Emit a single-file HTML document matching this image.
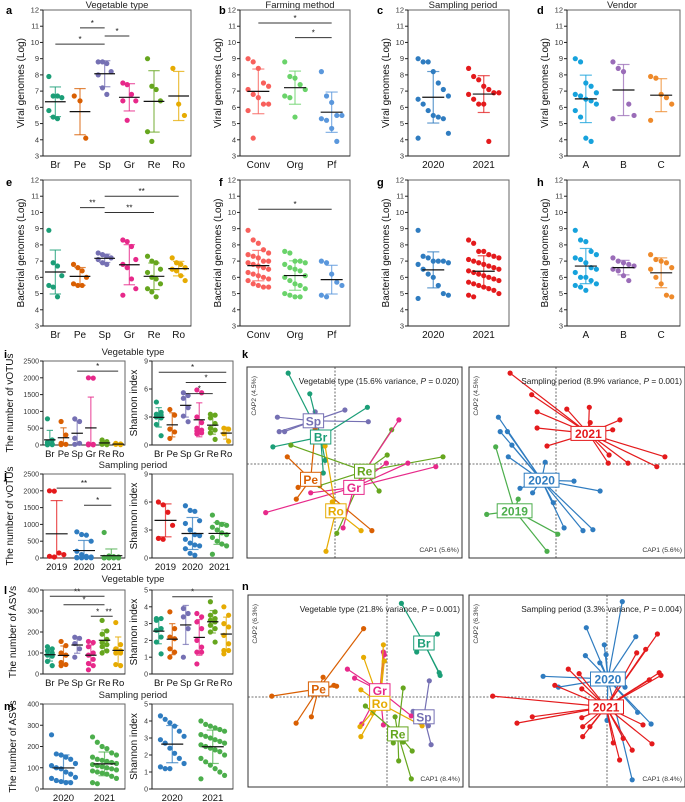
<!DOCTYPE html>
<html><head><meta charset="utf-8">
<style>
body{margin:0;background:#fff;}
svg{display:block;font-family:"Liberation Sans",Arial,sans-serif;}
</style></head>
<body>
<svg id="fig" width="685" height="802" viewBox="0 0 685 802" xmlns="http://www.w3.org/2000/svg"></svg>
<script>
// ---------- data ----------
const vegCats=["Br","Pe","Sp","Gr","Re","Ro"];
const vegColors=["#1b9e77","#d95f02","#7570b3","#e7298a","#66a61e","#e6ab02"];
const farmCats=["Conv","Org","Pf"];
const farmColors=["#f8605c","#6ad36a","#5a97dc"];
const yearCats=["2020","2021"];
const yearColors=["#2f7cc0","#e41a1c"];
const year3Cats=["2019","2020","2021"];
const year3Colors=["#e41a1c","#2f7cc0","#4cae4c"];
const year3bColors=["#e41a1c","#2f7cc0","#4cae4c"];
const yearGColors=["#2f7cc0","#4cae4c"];
const vendCats=["A","B","C"];
const vendColors=["#16a2dc","#9a6cb8","#ee8a2b"];

const aVals=[[7.9,6.7,6.7,5.8,5.4,5.3,6.6],[6.7,6.4,4.1],[8.8,8.8,8.7,8.2,8.0,7.2,6.8],[7.5,7.4,6.8,6.4,6.4,5.2],[9.0,7.3,7.1,6.4,4.5,3.9],[8.4,6.2,5.5]];
const bVals=[[9.0,8.8,8.4,7.5,7.3,7.1,6.8,6.6,6.2,6.2,5.8,4.1],[8.8,7.9,7.8,7.4,7.1,6.7,6.6,5.4],[8.2,6.7,6.3,5.5,5.5,5.3,5.2,4.7,3.9]];
const cVals=[[9.0,8.8,8.8,8.2,7.5,7.1,6.7,6.5,6.2,5.8,5.5,5.4,5.3,4.4,4.1],[8.4,7.9,7.7,7.3,7.1,6.9,6.9,6.8,6.5,6.2,6.2,3.9]];
const dVals=[[9.0,8.8,7.5,7.3,6.9,6.8,6.7,6.5,6.4,6.2,5.8,5.4,4.1,3.9],[8.8,8.4,8.2,6.2,5.5,5.3],[7.9,7.8,6.8,6.6,6.2,5.2]];
const eVals=[[8.9,6.9,6.7,6.1,5.5,5.4,4.8],[6.8,6.6,6.4,6.0,5.6,5.5,5.5],[7.5,7.4,7.3,7.2,7.1,6.9,6.8],[8.3,8.2,7.9,7.1,6.8,6.6,5.9,5.3,4.9],[7.3,7.0,6.9,6.5,6.3,6.0,5.9,5.6,5.3,5.1,4.8],[7.2,6.9,6.8,6.6,6.5,6.4,6.1,5.8]];
const fVals=[[8.9,8.3,8.1,7.7,7.5,7.4,7.3,7.2,7.0,7.0,6.9,6.8,6.7,6.6,6.5,6.3,6.2,6.1,6.0,5.9,5.8,5.6,5.5,5.4,5.4],[7.6,7.5,7.0,7.0,6.9,6.8,6.6,6.5,6.4,6.1,6.0,5.8,5.6,5.5,5.3,5.0,4.9,4.8,4.8],[7.0,6.9,6.2,5.7,5.5,4.9,4.8]];
const gVals=[[8.9,7.3,7.2,7.0,7.0,7.0,6.9,6.8,6.5,6.2,6.0,5.5,5.0,4.9,4.7],[8.3,8.1,7.6,7.6,7.4,7.3,7.2,7.1,7.0,6.9,6.8,6.7,6.6,6.5,6.4,6.3,6.2,6.1,6.0,5.9,5.8,5.7,5.6,5.5,5.4,5.3,5.2,5.0,4.9,4.8]];
const hVals=[[8.9,8.3,8.2,7.6,7.4,7.2,7.1,6.9,6.6,6.5,6.3,6.0,6.0,5.8,5.6,5.5,5.4,5.2],[7.2,7.0,6.9,6.8,6.7,6.5,6.4,6.1,5.8],[7.4,7.1,7.0,6.9,6.6,6.5,6.0,5.6,4.9,4.8]];
const iVotu=[[780,150,80,30,20,10,5],[700,300,50,20,10],[780,700,200,50,20],[2000,1990,30,20,10,10,5,5],[150,100,80,60,40,30,20,10],[50,30,20,10]];
const iShan=[[4.6,3.5,3.3,3.2,3.0,2.9,2.2,1.0],[3.8,3.2,1.7,1.4,0.7],[5.6,5.3,5.0,4.0,3.1,2.5],[5.9,5.6,3.0,2.4,1.8,1.6,1.5,1.3,1.2],[3.3,3.2,2.9,2.3,1.8,1.6,1.3,0.6],[1.8,1.7,1.2,0.4]];
const jVotu=[[2000,1990,150,100,50,30],[780,700,680,500,200,100,50,30,20,10,10,5,5,5],[760,60,40,30,20,10,10,5,5,5,5,5,5,5]];
const jShan=[[6.0,5.7,4.9,3.5,2.1,2.0],[5.6,5.1,5.0,4.0,3.7,3.0,2.5,2.4,2.0,1.6,1.4,1.3,1.0,0.5,0.3],[4.6,3.8,3.6,3.5,3.3,3.0,2.7,2.5,2.2,1.8,1.5,1.3,0.4]];
const lAsv=[[130,120,110,100,90,85,60,40],[155,135,100,90,55,45,40],[175,170,145,120,80],[155,150,130,100,90,70,50,40,20],[255,205,190,165,150,140,130,110,100],[245,140,120,110,100,100,45,40]];
const lShan=[[3.3,3.3,3.2,2.7,2.6,2.2,1.2,1.9],[3.7,2.7,2.2,2.1,1.5,1.3,1.0],[3.9,3.6,3.4,2.7,1.0],[3.6,3.4,3.1,2.7,2.0,1.3,1.3,0.6,1.6],[4.3,3.7,3.5,3.3,3.2,3.1,2.9,2.7,2.5,1.9],[4.0,3.5,3.0,2.8,2.3,1.8,1.4,1.4,1.2]];
const mAsv=[[255,165,160,150,140,120,110,100,95,80,70,55,50,40,35,30,30],[245,220,200,190,170,160,150,140,135,130,125,120,115,110,105,100,95,90,85,80,75,70,60,50,30,25]];
const mShan=[[4.3,4.1,3.9,3.7,3.4,3.1,2.9,2.7,2.4,2.1,1.8,1.5,1.3,1.2,1.2],[4.0,3.8,3.7,3.6,3.5,3.4,3.2,3.1,3.0,2.9,2.8,2.7,2.6,2.5,2.4,2.3,2.2,2.0,1.8,1.6,1.4,1.2,1.0,0.8,0.6]];

const genTicks=[3,4,5,6,7,8,9,10,11,12];
const votuTicks=[0,500,1000,1500,2000,2500];
const shan9Ticks=[0,3,6,9];
const asvTicks=[0,100,200,300,400];
const shan5Ticks=[0,1,2,3,4,5];

const aSig=[[0,2,9.9,"*"],[1,2,10.9,"*"],[2,3,10.4,"*"]];
const bSig=[[0,2,11.2,"*"],[1,2,10.3,"*"]];
const eSig=[[1,2,10.3,"**"],[2,5,11.0,"**"],[2,4,10.0,"**"]];
const fSig=[[0,2,10.2,"*"]];
const iVSig=[[2,5,2200,"*"]];
const iSSig=[[0,5,7.8,"*"],[2,5,6.7,"*"],[2,4,5.5,"*"]];
const jVSig=[[0,2,2080,"**"],[1,2,1570,"*"]];
const lASig=[[0,4,370,"**"],[1,4,330,"*"],[3,4,275,"*"],[4,4.6,275,"**"]];
const lSSig=[[1,4,4.6,"*"]];

// CAP data (units; centroid + member points)
const kVegLabels=["Sp","Br","Re","Gr","Pe","Ro"];
const kVegCent=[[-0.24,0.48],[-0.16,0.30],[0.33,-0.08],[0.21,-0.26],[-0.27,-0.17],[0.01,-0.52]];
const kVegPts=[
 [[-0.64,0.52],[-0.62,0.36],[-0.56,0.36],[-0.22,0.58],[0.11,0.6],[0.37,0.47]],
 [[-0.52,1.01],[-0.28,0.78],[-0.69,0.19],[-0.13,-0.1],[0.36,0.63],[-0.11,0.04]],
 [[0.63,0.38],[0.58,0.1],[1.2,0.08],[-0.49,0.21],[0.49,-0.3],[0.02,-0.77],[-0.17,-0.24]],
 [[0.71,0.49],[0.57,0.01],[0.81,0.01],[1.12,-0.03],[-0.77,-0.54],[-0.27,-0.32],[0.09,-0.71]],
 [[-0.53,0.08],[-0.41,-0.26],[-0.43,-0.39],[-0.22,0.39],[0.41,-0.74]],
 [[-0.11,0.2],[-0.03,-0.42],[0.29,-0.74],[-0.1,-0.97]]];
const kVegCol=["#7570b3","#1b9e77","#66a61e","#e7298a","#d95f02","#e6ab02"];
const kYrLabels=["2021","2020","2019"];
const kYrCent=[[0.36,0.34],[-0.16,-0.18],[-0.46,-0.52]];
const kYrPts=[
 [[-0.51,1.01],[-0.27,0.77],[-0.21,0.58],[0.12,0.61],[0.37,0.63],[0.38,0.46],[0.71,0.49],[0.63,0.38],[-0.21,0.4],[-0.1,0.2],[1.21,0.08],[1.12,-0.03],[0.8,0.01],[0.58,0.01],[0.59,0.1]],
 [[-0.64,0.52],[-0.62,0.36],[-0.54,0.36],[-0.49,0.21],[-0.53,0.08],[-0.12,0.02],[-0.4,-0.27],[-0.26,-0.32],[-0.03,-0.43],[0.2,-0.19],[0.49,-0.3],[0.09,-0.71],[0.3,-0.74],[0.41,-0.73]],
 [[-0.67,0.19],[-0.42,-0.39],[-0.77,-0.56],[0.02,-0.78],[-0.1,-0.97]]];
const kYrCol=["#e41a1c","#2f7cc0","#4cae4c"];
const nVegLabels=["Br","Pe","Gr","Ro","Sp","Re"];
const nVegCent=[[0.41,0.6],[-0.76,0.09],[-0.08,0.07],[-0.08,-0.07],[0.41,-0.22],[0.12,-0.41]];
const nVegPts=[
 [[0.16,1.04],[0.56,0.7],[0.33,0.5],[0.59,0.24],[0.58,0.27]],
 [[-0.26,0.76],[-0.71,0.22],[-0.56,0.12],[-1.28,0.01],[-1.01,-0.29],[-0.84,-0.22],[-0.59,0.13]],
 [[-0.44,0.31],[-0.04,0.5],[-0.03,0.47],[0.27,-0.21],[-0.04,-0.31],[-0.28,-0.3],[-0.36,0.21]],
 [[-0.04,0.58],[-0.26,0.44],[-0.03,0.4],[-0.29,0.08],[-0.3,-0.33],[-0.29,-0.44],[0.39,-0.32],[-0.16,-0.18]],
 [[0.47,0.18],[0.46,-0.32],[0.49,-0.53],[0.29,-0.16]],
 [[0.18,0.1],[-0.24,-0.1],[0.07,-0.51],[0.13,-0.71],[0.27,-0.91],[0.28,-0.6],[0.18,-0.5],[0.09,-0.22]]];
const nVegCol=["#1b9e77","#d95f02","#e7298a","#e6ab02","#7570b3","#66a61e"];
const nYrLabels=["2020","2021"];
const nYrCent=[[0.01,0.2],[-0.01,-0.11]];
const nYrPts=[
 [[0.17,1.06],[-0.23,0.77],[0.32,0.67],[-0.03,0.58],[-0.01,0.47],[-0.24,0.46],[-0.08,0.38],[-0.71,0.23],[-0.54,0.11],[0.2,0.11],[0.34,-0.17],[0.49,-0.3],[0.28,-0.92],[0,-0.26]],
 [[-1.27,0.01],[-1.0,-0.29],[-0.83,-0.22],[-0.58,0.13],[-0.43,0.31],[-0.31,0.26],[-0.28,0.09],[-0.28,-0.23],[-0.27,-0.44],[0.07,-0.51],[0.14,-0.7],[0.28,-0.59],[0.5,-0.52],[0.4,-0.31],[0.56,0.7],[0.43,0.53],[0.33,0.49],[0.47,0.19],[0.58,0.27],[0.6,0.24],[-0.27,-0.33],[-0.19,-0.33],[0.18,-0.46]]];
const nYrCol=["#2f7cc0","#e41a1c"];

// ---------- helpers ----------
const svg=document.getElementById('fig');
const NS="http://www.w3.org/2000/svg";
function mk(tag,attrs,parent,text){const e=document.createElementNS(NS,tag);for(const k in attrs)e.setAttribute(k,attrs[k]);if(text!==undefined)e.textContent=text;(parent||svg).appendChild(e);return e;}
function txt(x,y,s,size,opts,parent){const o=Object.assign({x:x,y:y,'font-size':size,fill:'#222'},opts||{});const t=mk('text',o,parent,s);return t;}
function mean(a){return a.reduce((p,c)=>p+c,0)/a.length;}
function sd(a){const m=mean(a);return Math.sqrt(a.reduce((p,c)=>p+(c-m)*(c-m),0)/(a.length-1||1));}

function label(x,y,s,name){const t=txt(x,y,s,11,{'font-weight':'bold',fill:'#000'});

}
function title(x,y,s,name){const t=txt(x,y,s,9.5,{'text-anchor':'middle'});

}

function dotPanel(name,L,R,T,B,ymin,ymax,ticks,cats,vals,cols,sig,ylab,ylabOff,catSize,tickSize){
 const g=mk('g',{});
 
 
 const y=v=>B-(v-ymin)/(ymax-ymin)*(B-T);
 const band=(R-L)/cats.length;
 const x=i=>L+band*(i+0.5);
 mk('rect',{x:L,y:T,width:R-L,height:B-T,fill:'none',stroke:'#666','stroke-width':1},g);
 mk('line',{x1:L,y1:B,x2:R,y2:B,stroke:'#222','stroke-width':1},g);
 mk('line',{x1:L,y1:T,x2:L,y2:B,stroke:'#222','stroke-width':1},g);
 ticks.forEach(t=>{mk('line',{x1:L-3,y1:y(t),x2:L,y2:y(t),stroke:'#222'},g);
  txt(L-4,y(t)+2.5,String(t),tickSize||7.5,{'text-anchor':'end',fill:'#333'},g);});
 cats.forEach((c,i)=>{const t=txt(x(i),B+(catSize>9?12:11),c,catSize||10,{'text-anchor':'middle',fill:'#111'},g);
  
  });
 const yl=txt(0,0,ylab,catSize>9?10:9.5,{'text-anchor':'middle',fill:'#111',transform:`translate(${L-ylabOff},${(T+B)/2}) rotate(-90)`},g);
 
 
 const hw=Math.min(11,band*0.42);
 vals.forEach((arr,i)=>{
  const col=cols[i],cx=x(i);
  const sorted=arr.slice().sort((a,b)=>b-a);
  const k=Math.min(sorted.length,Math.max(2,Math.round(band/7)));
  sorted.forEach((v,j)=>{
   const off=((j%k)-(k-1)/2)*(band*0.7/k);
   const c=mk('circle',{cx:cx+off,cy:y(v),r:2.6,fill:col},g);
   
   
  });
  const m=mean(arr),s=sd(arr);
  const top=Math.min(ymax,m+s),bot=Math.max(ymin,m-s);
  mk('line',{x1:cx,y1:y(top),x2:cx,y2:y(bot),stroke:col,'stroke-width':1.2,opacity:0.75},g);
  mk('line',{x1:cx-hw*0.55,y1:y(top),x2:cx+hw*0.55,y2:y(top),stroke:col,'stroke-width':1.2,opacity:0.75},g);
  mk('line',{x1:cx-hw*0.55,y1:y(bot),x2:cx+hw*0.55,y2:y(bot),stroke:col,'stroke-width':1.2,opacity:0.75},g);
  const ml=mk('line',{x1:cx-hw,y1:y(m),x2:cx+hw,y2:y(m),stroke:'#111','stroke-width':1.2},g);
  
  
 });
 (sig||[]).forEach(s=>{
  const x1=x(s[0]),x2=x(s[1]);const yy=y(s[2]);
  const ln=mk('line',{x1:x1,y1:yy,x2:x2,y2:yy,stroke:'#333','stroke-width':1},g);
  
  
  txt((x1+x2)/2,yy-2,s[3],8,{'text-anchor':'middle',fill:'#111'},g);
 });
}

function capPanel(name,L,R,T,B,cx0,cy0,cents,pts,labs,cols,ttl,ylab,xlab){
 const g=mk('g',{});
 
 
 const S=90;
 const x=v=>cx0+v*S, y=v=>cy0-v*S;
 mk('rect',{x:L,y:T,width:R-L,height:B-T,fill:'#fff',stroke:'#333','stroke-width':1},g);
 mk('line',{x1:L,y1:cy0,x2:R,y2:cy0,stroke:'#444','stroke-dasharray':'2,1.5','stroke-width':0.8},g);
 mk('line',{x1:cx0,y1:T,x2:cx0,y2:B,stroke:'#444','stroke-dasharray':'2,1.5','stroke-width':0.8},g);
 cents.forEach((c,i)=>{pts[i].forEach(p=>{
  mk('line',{x1:x(c[0]),y1:y(c[1]),x2:x(p[0]),y2:y(p[1]),stroke:cols[i],'stroke-width':1.2},g);
  const d=mk('circle',{cx:x(p[0]),cy:y(p[1]),r:2.6,fill:cols[i]},g);
  
  
 });});
 cents.forEach((c,i)=>{
  const w=labs[i].length*7.2+6;
  mk('rect',{x:x(c[0])-w/2,y:y(c[1])-7,width:w,height:14,fill:'#fff',stroke:cols[i],'stroke-width':1},g);
  const t=txt(x(c[0]),y(c[1])+4.5,labs[i],12,{'text-anchor':'middle',fill:cols[i],'font-weight':'bold'},g);
  
  
 });
 const tt=mk('text',{x:R-3,y:T+17,'font-size':8.3,'text-anchor':'end',fill:'#222'},g);
 tt.innerHTML=ttl;
 
 
 txt(0,0,ylab,6.8,{'text-anchor':'end',fill:'#333',transform:`translate(${L+9},${T+9}) rotate(-90)`},g);
 txt(R-3,B-6,xlab,6.8,{'text-anchor':'end',fill:'#333'},g);
}

// ---------- render ----------
const VG="Viral genomes (Log)", BG="Bacterial genomes (Log)";
label(6,14,"a","panel-a-label");label(219,14,"b","panel-b-label");label(377,14,"c","panel-c-label");label(537,14,"d","panel-d-label");
title(117,8,"Vegetable type","panel-a-title");title(300,8,"Farming method","panel-b-title");title(463,8,"Sampling period","panel-c-title");title(622,8,"Vendor","panel-d-title");
dotPanel("panel-a",43,191,10,156,3,12,genTicks,vegCats,aVals,vegColors,aSig,VG,19,10);
dotPanel("panel-b",240,350,10,156,3,12,genTicks,farmCats,bVals,farmColors,bSig,VG,19,10);
dotPanel("panel-c",408,509,10,156,3,12,genTicks,yearCats,cVals,yearColors,[],VG,19,10);
dotPanel("panel-d",567,680,10,156,3,12,genTicks,vendCats,dVals,vendColors,[],VG,19,10);
label(6,186,"e","panel-e-label");label(219,186,"f","panel-f-label");label(377,186,"g","panel-g-label");label(537,186,"h","panel-h-label");
dotPanel("panel-e",43,191,180,326,3,12,genTicks,vegCats,eVals,vegColors,eSig,BG,19,10);
dotPanel("panel-f",240,350,180,326,3,12,genTicks,farmCats,fVals,farmColors,fSig,BG,19,10);
dotPanel("panel-g",408,509,180,326,3,12,genTicks,yearCats,gVals,yearColors,[],BG,19,10);
dotPanel("panel-h",567,680,180,326,3,12,genTicks,vendCats,hVals,vendColors,[],BG,19,10);

label(4,358,"i","panel-i-label");title(133,355,"Vegetable type","panel-i-title");
dotPanel("panel-i-votus",43,125,361,445,0,2500,votuTicks,vegCats,iVotu,vegColors,iVSig,"The number of vOTUs",30,9.5,7);
dotPanel("panel-i-shannon",152,233,361,445,0,9,shan9Ticks,vegCats,iShan,vegColors,iSSig,"Shannon index",15,9.5,7);
label(4,479,"j","panel-j-label");title(133,468,"Sampling period","panel-j-title");
dotPanel("panel-j-votus",43,125,474,558,0,2500,votuTicks,year3Cats,jVotu,year3Colors,jVSig,"The number of vOTUs",30,9.5,7);
dotPanel("panel-j-shannon",152,233,474,558,0,9,shan9Ticks,year3Cats,jShan,year3bColors,[],"Shannon index",15,9.5,7);
label(4,594,"l","panel-l-label");title(133,582,"Vegetable type","panel-l-title");
dotPanel("panel-l-asvs",43,125,590,674,0,400,asvTicks,vegCats,lAsv,vegColors,lASig,"The number of ASVs",27,9.5,7);
dotPanel("panel-l-shannon",152,233,590,674,0,5,shan5Ticks,vegCats,lShan,vegColors,lSSig,"Shannon index",15,9.5,7);
label(4,710,"m","panel-m-label");title(133,698,"Sampling period","panel-m-title");
dotPanel("panel-m-asvs",43,125,704,789,0,400,asvTicks,yearCats,mAsv,yearGColors,[],"The number of ASVs",27,9.5,7);
dotPanel("panel-m-shannon",152,233,704,789,0,5,shan5Ticks,yearCats,mShan,yearGColors,[],"Shannon index",15,9.5,7);

label(242,358,"k","panel-k-label");
capPanel("panel-k-vegetable",247,462,367,558,335,464,kVegCent,kVegPts,kVegLabels,kVegCol,'Vegetable type (15.6% variance, <tspan font-style="italic">P</tspan> = 0.020)',"CAP2 (4.5%)","CAP1 (5.6%)");
capPanel("panel-k-sampling",469,685,367,558,556,464,kYrCent,kYrPts,kYrLabels,kYrCol,'Sampling period (8.9% variance, <tspan font-style="italic">P</tspan> = 0.001)',"CAP2 (4.5%)","CAP1 (5.6%)");
label(242,590,"n","panel-n-label");
capPanel("panel-n-vegetable",248,463,595,787,387,697,nVegCent,nVegPts,nVegLabels,nVegCol,'Vegetable type (21.8% variance, <tspan font-style="italic">P</tspan> = 0.001)',"CAP2 (6.3%)","CAP1 (8.4%)");
capPanel("panel-n-sampling",469,685,595,787,607,697,nYrCent,nYrPts,nYrLabels,nYrCol,'Sampling period (3.3% variance, <tspan font-style="italic">P</tspan> = 0.004)',"CAP2 (6.3%)","CAP1 (8.4%)");
</script>
</body></html>
